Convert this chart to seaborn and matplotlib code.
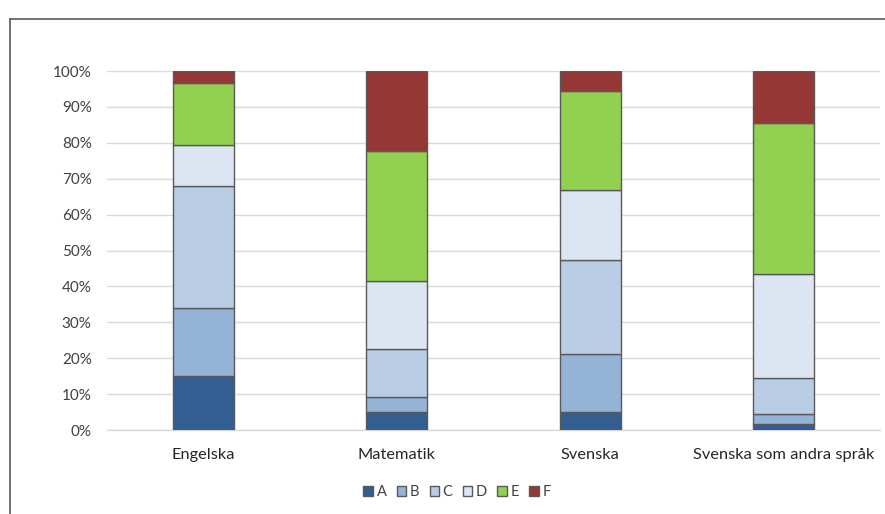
import matplotlib
matplotlib.use("Agg")
import matplotlib.pyplot as plt
import matplotlib.patches as mpatches
import numpy as np
import pandas as pd
import seaborn as sns

# Betygsfördelning per ämne (andel i procent)
subjects = ["Engelska", "Matematik", "Svenska", "Svenska som andra språk"]
grades = ["A", "B", "C", "D", "E", "F"]
share_A = [15.1, 5.1, 5.1, 1.6]
share_B = [18.8, 4.2, 16.1, 2.9]
share_C = [34.1, 13.3, 26.1, 10.1]
share_D = [11.4, 19.0, 19.6, 28.9]
share_E = [17.3, 36.2, 27.6, 42.1]
share_F = [3.3, 22.2, 5.5, 14.4]
colors = ["#335E92", "#95B3D7", "#B9CDE5", "#DCE6F2", "#92D050", "#953735"]

sns.set_style("white")
plt.rcParams["font.family"] = ["Lato", "DejaVu Sans"]

shares = [share_A, share_B, share_C, share_D, share_E, share_F]
df = pd.DataFrame({"subject": subjects})
for g, s in zip(grades, shares):
    df[g] = np.array(s) / 100.0

fig = plt.figure(figsize=(8.85, 5.14), dpi=100)
ax = fig.add_axes([0.1209, 0.1634, 0.8734, 0.6984])

bottom = np.zeros(len(subjects))
for g, c in zip(grades, colors):
    sns.barplot(data=df, x="subject", y=g, color=c, bottom=bottom, width=0.316,
                edgecolor="#595959", linewidth=1.0, saturation=1, ax=ax, zorder=3)
    bottom = bottom + df[g].values

ax.set_ylim(0, 1)
ax.set_xlim(-0.5, len(subjects) - 0.5)
ax.set_yticks(np.arange(0, 1.01, 0.1))
ax.set_yticklabels([f"{int(round(v * 100))}%" for v in np.arange(0, 1.01, 0.1)])
ax.yaxis.grid(True, color="#D9D9D9", linewidth=1.0, zorder=0)
ax.set_axisbelow(True)
for side in ["top", "right", "left"]:
    ax.spines[side].set_visible(False)
ax.spines["bottom"].set_color("#D9D9D9")
ax.spines["bottom"].set_linewidth(1.0)
ax.tick_params(axis="y", length=0, pad=11, labelsize=11, labelcolor="#404040")
ax.tick_params(axis="x", length=0, pad=13, labelsize=11.8, labelcolor="#262626")
ax.set_xlabel("")
ax.set_ylabel("")

handles = [mpatches.Patch(facecolor=c, edgecolor="#595959", linewidth=1.0, label=g)
           for g, c in zip(grades, colors)]
fig.legend(handles=handles, loc="center", bbox_to_anchor=(457 / 885, 1 - 492 / 514),
           ncol=6, frameon=False, handlelength=0.65, handleheight=0.65,
           handletextpad=0.25, columnspacing=0.7, fontsize=10.5, labelcolor="#404040")

# ram runt diagrammet
fig.add_artist(plt.Line2D([10 / 885, 10 / 885], [0, 1 - 19 / 514], color="#595959",
                          linewidth=1.2, transform=fig.transFigure))
fig.add_artist(plt.Line2D([10 / 885, 1], [1 - 19 / 514, 1 - 19 / 514], color="#595959",
                          linewidth=1.2, transform=fig.transFigure))

fig.savefig("out.png", dpi=100)
